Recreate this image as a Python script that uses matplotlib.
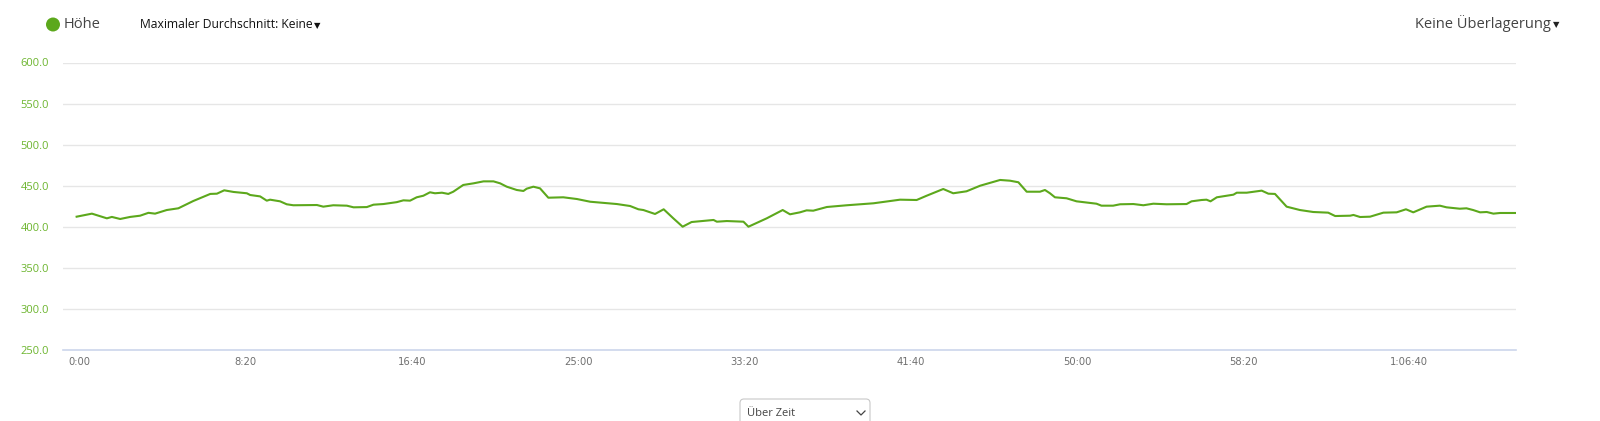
import matplotlib
matplotlib.use("Agg")
import matplotlib.pyplot as plt
import matplotlib.transforms as mtransforms
from matplotlib.patches import FancyBboxPatch, Circle
from matplotlib.lines import Line2D

# ---- data ----
time_s = [0, 46, 91, 106, 131, 161, 191, 216, 236, 271, 306, 351, 402, 422, 444, 472,
          512, 522, 552, 572, 582, 612, 632, 652, 723, 742, 772, 813, 833, 873, 893, 923,
          963, 983, 1003, 1023, 1043, 1063, 1078, 1099, 1118, 1133, 1163, 1194, 1224,
          1254, 1274, 1294, 1324, 1344, 1354, 1374, 1394, 1419, 1464, 1505, 1545, 1625,
          1665, 1690, 1705, 1740, 1766, 1795, 1823, 1850, 1916, 1926, 1956, 2006, 2021,
          2076, 2124, 2146, 2176, 2196, 2216, 2257, 2317, 2397, 2477, 2527, 2557, 2607,
          2637, 2677, 2718, 2778, 2808, 2833, 2858, 2898, 2913, 2928, 2943, 2978, 3008,
          3068, 3083, 3118, 3139, 3179, 3209, 3239, 3279, 3339, 3354, 3384, 3399, 3411,
          3430, 3480, 3490, 3520, 3565, 3585, 3605, 3640, 3680, 3720, 3765, 3786, 3831,
          3841, 3861, 3891, 3931, 3971, 3999, 4021, 4061, 4101, 4121, 4161, 4181, 4201,
          4222, 4242, 4262, 4282, 4327]
hoehe = [412.3, 416.0, 410.3, 412.0, 409.5, 412.0, 413.5, 417.0, 416.0, 420.4, 422.5,
         431.4, 440.0, 440.3, 444.4, 442.4, 440.8, 438.7, 437.0, 431.8, 433.0, 431.0,
         427.4, 426.2, 426.5, 424.5, 426.2, 425.7, 423.7, 424.0, 426.9, 427.7, 430.0,
         432.2, 431.8, 435.9, 437.8, 442.0, 440.8, 441.5, 440.0, 442.7, 450.9, 452.9,
         455.3, 455.3, 452.9, 448.8, 444.8, 443.6, 446.4, 448.8, 446.8, 435.4, 435.9,
         433.8, 430.5, 427.7, 425.3, 421.3, 420.4, 415.6, 421.3, 410.3, 400.1, 405.8,
         408.3, 406.2, 407.0, 406.2, 400.1, 410.3, 420.4, 415.2, 417.6, 420.0, 419.6,
         424.1, 426.2, 428.6, 433.0, 432.6, 437.8, 446.0, 440.8, 443.2, 450.0, 457.0,
         456.1, 454.2, 442.7, 442.7, 444.8, 440.8, 435.9, 434.7, 431.0, 428.1, 425.7,
         425.7, 427.4, 427.7, 426.2, 428.1, 427.4, 427.7, 431.0, 432.6, 433.0, 431.0,
         435.9, 439.1, 441.5, 441.5, 444.0, 440.3, 440.0, 424.5, 420.4, 418.0, 417.2,
         413.1, 413.5, 414.4, 411.9, 412.3, 417.2, 417.6, 421.3, 417.6, 424.5, 425.7,
         423.7, 422.0, 422.5, 420.4, 417.6, 418.0, 416.0, 416.8, 416.8]
y_ticks = [250, 300, 350, 400, 450, 500, 550, 600]
x_ticks = [0, 500, 1000, 1500, 2000, 2500, 3000, 3500, 4000]
x_tick_labels = ["0:00", "8:20", "16:40", "25:00", "33:20", "41:40", "50:00", "58:20", "1:06:40"]

GREEN = "#5ca81c"
LABEL_GREEN = "#6cb52e"

W, H = 1600, 421
fig = plt.figure(figsize=(W / 100, H / 100), dpi=100)
fig.patch.set_facecolor("white")

left, right, top, bottom = 63, 1516, 62.5, 350
ax = fig.add_axes([left / W, 1 - bottom / H, (right - left) / W, (bottom - top) / H])
ax.set_facecolor("white")
ax.plot(time_s, hoehe, color=GREEN, lw=1.5, solid_joinstyle="round", zorder=3)
ax.set_xlim(-41, 4330)
ax.set_ylim(250, 600)

ax.set_yticks(y_ticks)
ax.set_yticklabels([f"{v:.1f}" for v in y_ticks], color=LABEL_GREEN,
                   fontsize=8, family=["Open Sans", "DejaVu Sans"])
ax.set_xticks(x_ticks)
ax.set_xticklabels(x_tick_labels, color="#707070", fontsize=8,
                   family="DejaVu Sans", fontstretch="condensed")
ax.tick_params(axis="both", length=0)
ax.tick_params(axis="y", pad=10)
ax.tick_params(axis="x", pad=5)
offset = mtransforms.ScaledTranslation(3 / 100, 0, fig.dpi_scale_trans)
for lab in ax.get_xticklabels():
    lab.set_transform(lab.get_transform() + offset)

for v in y_ticks[1:]:
    ax.axhline(v, color="#e6e6e6", lw=1.0, zorder=1)
for s in ["top", "right", "left"]:
    ax.spines[s].set_visible(False)
ax.spines["bottom"].set_color("#ccd6eb")
ax.spines["bottom"].set_linewidth(1.2)

# ---- header ----
circ = Circle((53, H - 24.5), radius=7, transform=None, facecolor=GREEN, edgecolor="none")
fig.patches.append(circ)
fig.text(64 / W, 1 - 24.5 / H, "Höhe", fontsize=10.5, color="#444444",
         family=["Open Sans", "DejaVu Sans"], va="center", ha="left")
fig.text(140 / W, 1 - 25 / H, "Maximaler Durchschnitt: Keine", fontsize=8.7,
         color="#111111", family=["Open Sans", "DejaVu Sans"], va="center", ha="left")
fig.text(314 / W, 1 - 25.5 / H, "▼", fontsize=6, color="#111111",
         family="DejaVu Sans", va="center", ha="left")
fig.text(1551 / W, 1 - 24 / H, "Keine Überlagerung", fontsize=10.5, color="#444444",
         family=["Open Sans", "DejaVu Sans"], va="center", ha="right")
fig.text(1553 / W, 1 - 25 / H, "▼", fontsize=6, color="#222222",
         family="DejaVu Sans", va="center", ha="left")

# ---- bottom selector ----
box = FancyBboxPatch((740, -10), 130, H - 399 + 10, boxstyle="round,pad=0,rounding_size=4",
                     transform=None, facecolor="white", edgecolor="#c8c8c8", lw=0.8)
fig.patches.append(box)
fig.text(747 / W, 1 - 413 / H, "Über Zeit", fontsize=8, color="#444444",
         family=["Open Sans", "DejaVu Sans"], va="center", ha="left")
fig.lines.append(Line2D([857, 861, 865], [H - 411, H - 415, H - 411], transform=None,
                        color="#444444", lw=0.9))

fig.savefig("out.png", dpi=100, facecolor="white")
